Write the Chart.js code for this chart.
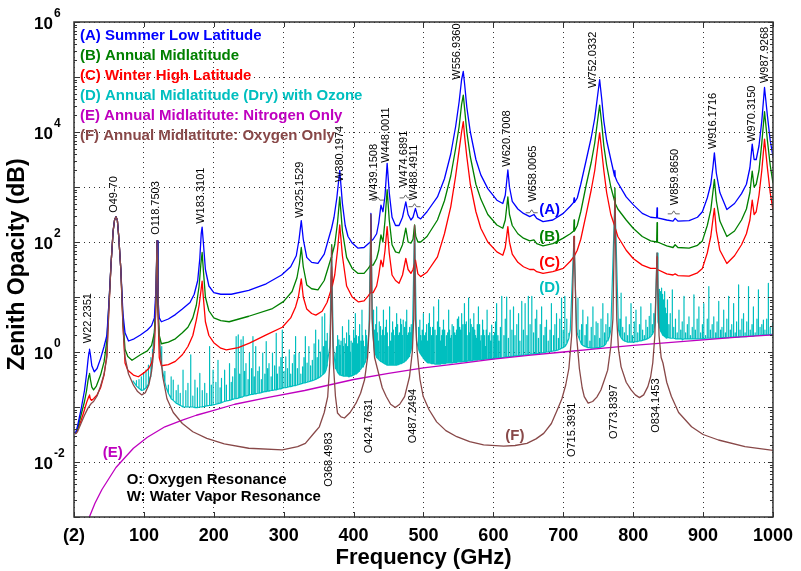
<!DOCTYPE html>
<html>
<head>
<meta charset="utf-8">
<title>Zenith Opacity</title>
<script src="https://cdn.jsdelivr.net/npm/chart.js@4.4.1/dist/chart.umd.min.js"></script>
<style>
  html, body { margin: 0; padding: 0; background: #fff; }
  #wrap { width: 801px; height: 571px; }
</style>
</head>
<body>
<div id="wrap"><canvas id="opacityChart" width="801" height="571"></canvas></div>
<script>
// 数据：频率 (GHz) 与 log10(天顶不透明度 dB)，全部从对数轴上读取
const xTickValues = [0, 100, 200, 300, 400, 500, 600, 700, 800, 900, 1000];
const xTickLabels = ['(2)', '100', '200', '300', '400', '500', '600', '700', '800', '900', '1000'];
const yDecades = [-3, -2, -1, 0, 1, 2, 3, 4, 5, 6];
const yLabelDecades = [-2, 0, 2, 4, 6];

// (A) Summer Low Latitude
const summerLowLat = [[2,-1.49],[5,-1.35],[10,-1.05],[15,-0.7],[18,-0.4],[20,-0.15],[21.5,0.0],[22.2,0.05],[23.5,-0.05],[25.5,-0.25],[29,-0.36],[33,-0.3],[38,-0.12],[43,0.1],[47,0.3],[50,0.9],[53,1.6],[56,2.2],[58,2.4],[60,2.46],[62,2.4],[64,2.1],[67,1.5],[70,0.7],[73,0.35],[78,0.2],[86,0.24],[95,0.31],[105,0.4],[111,0.48],[115,0.62],[117.5,1.2],[118.75,2.02],[120,1.0],[122,0.62],[125,0.55],[135,0.6],[145,0.68],[155,0.78],[166,0.9],[172,1.05],[177,1.3],[180,1.7],[182,2.15],[183.3,2.27],[185,2.0],[188,1.5],[193,1.2],[200,1.08],[210,1.05],[225,1.05],[250,1.12],[275,1.24],[297,1.4],[310,1.55],[318,1.75],[322,2.05],[325.15,2.39],[328,2.05],[333,1.72],[340,1.63],[349,1.61],[358,1.78],[364,2.05],[368.5,2.25],[372,2.45],[376,2.8],[380.2,3.3],[384,2.7],[388,2.3],[392,2.1],[398,1.98],[406,1.89],[415,1.9],[421,1.97],[424,2.0],[424.76,2.52],[425.5,2.02],[428,2.05],[433,2.15],[436,2.35],[439.15,2.67],[442,2.55],[445,2.85],[448,3.43],[451,2.9],[455,2.45],[460,2.3],[465,2.3],[470,2.45],[474.7,2.73],[478,2.5],[482,2.4],[485,2.45],[488.5,2.61],[492,2.45],[496,2.42],[505,2.55],[520,2.82],[530,3.15],[539,3.6],[546,4.1],[551,4.55],[554.5,4.95],[556.94,5.1],[559,4.85],[562,4.45],[567,4.0],[575,3.5],[582,3.22],[592,2.97],[605,2.76],[613.5,2.7],[617,2.85],[620.7,3.31],[623,3.0],[627,2.74],[635,2.6],[643,2.52],[652,2.46],[658,2.5],[662,2.43],[671,2.37],[685,2.4],[700,2.52],[710,2.65],[714.8,2.72],[715.4,2.8],[716,2.72],[720,2.8],[725,3.05],[733,3.5],[740,3.9],[745,4.25],[749,4.65],[752.03,4.95],[755,4.6],[758,4.2],[762,3.85],[768,3.5],[773.3,3.2],[773.84,3.3],[774.4,3.18],[777,3.1],[790,2.82],[800,2.68],[813,2.52],[825,2.45],[833.6,2.44],[834.15,2.62],[834.7,2.44],[848,2.4],[857,2.38],[860,2.43],[864,2.38],[880,2.39],[892,2.45],[899,2.55],[906,2.8],[911,3.05],[914,3.35],[916.17,3.62],[919,3.25],[924,2.9],[934,2.59],[945,2.7],[955,2.88],[962,3.05],[967,3.35],[970.3,3.78],[973,3.5],[976,3.5],[980,3.75],[984,4.2],[987.9,4.81],[992,4.3],[996,3.85],[1000,3.55]];

// (B) Annual Midlatitude
const annualMidLat = [[2,-1.49],[5,-1.4],[10,-1.15],[15,-0.9],[18,-0.7],[20,-0.52],[21.5,-0.42],[22.2,-0.39],[23.5,-0.5],[25.5,-0.64],[28,-0.69],[32,-0.62],[38,-0.42],[43,-0.18],[47,0.2],[50,0.88],[53,1.6],[56,2.2],[58,2.4],[60,2.46],[62,2.4],[64,2.1],[67,1.5],[70,0.6],[73,0.05],[77,-0.08],[83,-0.15],[95,-0.05],[105,0.02],[111,0.12],[115,0.35],[117.5,1.1],[118.75,2.02],[120,0.9],[122,0.3],[125,0.15],[135,0.18],[145,0.24],[155,0.35],[163,0.45],[170,0.62],[175,0.85],[179,1.2],[181.5,1.6],[183.3,1.81],[185,1.5],[188,1.0],[193,0.75],[200,0.62],[210,0.57],[222,0.55],[250,0.65],[284,0.79],[300,0.92],[312,1.1],[319,1.35],[322.5,1.6],[325.15,1.9],[328,1.55],[333,1.22],[340,1.15],[349,1.13],[358,1.3],[364,1.55],[368,1.72],[368.5,1.95],[369,1.75],[373,1.95],[377,2.35],[380.2,2.82],[384,2.2],[390,1.72],[398,1.52],[406,1.43],[415,1.43],[421,1.52],[424.2,1.58],[424.76,2.04],[425.3,1.58],[428,1.58],[433,1.7],[436,1.85],[439.15,2.13],[442,2.0],[445,2.4],[448,2.95],[451,2.4],[455,1.95],[460,1.82],[465,1.8],[470,1.95],[474.7,2.25],[478,2.0],[482,1.98],[485,2.05],[487.25,2.31],[489,2.1],[492,2.0],[496,2.0],[505,2.1],[520,2.4],[530,2.75],[539,3.2],[546,3.7],[551,4.1],[554.5,4.5],[556.94,4.67],[559,4.4],[562,4.0],[567,3.55],[575,3.05],[582,2.78],[592,2.5],[605,2.31],[613.5,2.25],[617,2.4],[620.7,2.82],[623,2.5],[627,2.3],[635,2.15],[643,2.07],[652,2.02],[658,2.04],[662,1.97],[671,1.93],[685,1.97],[700,2.07],[710,2.15],[714.9,2.2],[715.4,2.4],[716,2.2],[720,2.3],[725,2.55],[733,3.05],[740,3.45],[745,3.8],[749,4.2],[752.03,4.49],[755,4.15],[758,3.75],[762,3.4],[768,3.0],[773.3,2.75],[773.84,2.98],[774.4,2.7],[778,2.6],[790,2.4],[800,2.25],[813,2.1],[825,2.02],[833.6,2.0],[834.15,2.35],[834.7,2.0],[848,1.93],[857,1.9],[860,1.95],[864,1.9],[880,1.89],[892,1.94],[899,2.02],[906,2.3],[911,2.58],[914,2.9],[916.17,3.14],[919,2.75],[924,2.38],[934,2.1],[945,2.2],[955,2.4],[962,2.6],[967,2.9],[970.3,3.29],[973,3.0],[976,3.05],[980,3.3],[984,3.8],[987.9,4.37],[992,3.85],[996,3.4],[1000,3.07]];

// (C) Winter High Latitude
const winterHighLat = [[2,-1.49],[5,-1.42],[10,-1.25],[15,-1.05],[18,-0.92],[20,-0.85],[21.5,-0.8],[22.2,-0.78],[23.3,-0.85],[25,-0.88],[28,-0.85],[33,-0.78],[38,-0.65],[43,-0.42],[47,-0.05],[50,0.82],[53,1.6],[56,2.2],[58,2.4],[60,2.46],[62,2.4],[64,2.1],[67,1.5],[70,0.5],[73,-0.2],[77,-0.33],[85,-0.42],[92,-0.45],[100,-0.38],[107,-0.3],[111,-0.2],[115,0.1],[117.5,1.0],[118.75,2.02],[120,0.8],[122,-0.1],[125,-0.25],[135,-0.23],[145,-0.17],[155,-0.05],[163,0.1],[170,0.3],[175,0.58],[179,0.85],[181.5,1.1],[183.3,1.29],[185,1.0],[188,0.55],[193,0.3],[200,0.17],[210,0.07],[218,0.04],[235,0.08],[251,0.16],[275,0.31],[298,0.45],[310,0.62],[317,0.82],[321,1.0],[325.15,1.33],[328,1.0],[333,0.78],[340,0.7],[346,0.67],[355,0.74],[362,0.9],[367.5,1.12],[368.5,1.55],[369.5,1.2],[373,1.4],[377,1.85],[380.2,2.31],[384,1.75],[390,1.2],[398,1.0],[407,0.91],[415,0.93],[421,1.02],[424.2,1.08],[424.76,1.8],[425.3,1.08],[428,1.08],[433,1.2],[436,1.4],[439.15,1.67],[442,1.55],[445,1.85],[448,2.28],[451,1.8],[455,1.4],[460,1.3],[465,1.25],[470,1.4],[474.7,1.7],[478,1.5],[482,1.43],[485,1.5],[488.5,1.67],[492,1.42],[496,1.37],[505,1.45],[520,1.73],[530,2.15],[539,2.64],[546,3.2],[551,3.67],[554.5,4.0],[556.94,4.19],[559,3.9],[562,3.55],[567,3.05],[575,2.55],[582,2.25],[592,2.0],[605,1.82],[613.5,1.76],[617,1.9],[620.7,2.28],[623,2.0],[627,1.78],[635,1.63],[643,1.55],[652,1.5],[658,1.5],[662,1.46],[671,1.43],[685,1.46],[700,1.52],[710,1.65],[714.9,1.73],[715.4,2.1],[716,1.75],[720,1.85],[725,2.05],[733,2.52],[740,2.95],[745,3.3],[749,3.7],[752.03,3.99],[755,3.65],[758,3.3],[762,2.9],[768,2.5],[773.3,2.3],[773.84,2.79],[774.4,2.25],[778,2.1],[790,1.85],[800,1.7],[813,1.58],[825,1.52],[833.6,1.52],[834.15,1.73],[834.7,1.5],[848,1.42],[857,1.4],[860,1.42],[864,1.39],[880,1.38],[892,1.44],[899,1.52],[906,1.8],[911,2.1],[914,2.4],[916.17,2.61],[919,2.2],[924,1.85],[934,1.61],[945,1.75],[955,1.95],[962,2.15],[967,2.4],[970.3,2.76],[973,2.5],[976,2.55],[980,2.85],[984,3.3],[987.9,3.87],[992,3.35],[996,2.9],[1000,2.58]];

// (D) 干燥大气 + 臭氧：基线点 与 尖峰 [频率, 基线, 峰顶]
const dryBase = [[84,-0.52],[90,-0.62],[97,-0.7],[104,-0.64],[109,-0.45],[113,-0.05],[116.5,0.62],[118.75,2.0],[121,0.52],[123,0.1],[127,-0.35],[132,-0.65],[138,-0.82],[146.5,-0.93],[158,-1.0],[175,-1.01],[195,-0.97],[215,-0.9],[240.5,-0.82],[265.5,-0.75],[290,-0.69],[320,-0.6],[346,-0.5],[359,-0.38],[363,-0.2],[366,0.1],[368.5,1.9],[371,0.1],[374,-0.3],[380.5,-0.42],[394.5,-0.45],[405.8,-0.38],[413.5,-0.27],[419.5,-0.05],[422,0.4],[424.76,2.5],[427,0.4],[431.8,-0.05],[437.2,-0.15],[448.1,-0.24],[460.8,-0.24],[472.5,-0.18],[480.2,-0.05],[484,0.2],[487.25,2.3],[490,0.2],[495.6,-0.02],[500.6,-0.12],[507.8,-0.2],[521.5,-0.22],[545.5,-0.19],[570.6,-0.16],[600.2,-0.12],[630,-0.07],[659,-0.03],[691,0.03],[703.5,0.12],[710,0.4],[715.39,2.1],[719,0.35],[726.5,0.14],[736,0.08],[751,0.08],[762,0.2],[768,0.4],[773.84,2.8],[779,0.4],[785.5,0.22],[800,0.18],[815,0.22],[825.8,0.3],[831,0.5],[834.15,1.8],[835.5,0.55],[848,0.25],[870.5,0.22],[900,0.24],[930,0.26],[960.5,0.28],[1000,0.32]];

const drySpikes = [[89,-0.61,-0.52],[93,-0.66,-0.5],[96,-0.69,-0.45],[99.5,-0.69,-0.39],[103,-0.65,-0.33],[106.5,-0.58,-0.24],[110,-0.4,-0.1],[112,-0.2,0.05],
[125.5,-0.25,0.1],[130,-0.55,-0.35],[135,-0.75,-0.6],[139,-0.85,-0.45],[142,-0.88,-0.51],[146,-0.93,-0.7],[149,-0.95,-0.6],[152,-0.97,-0.75],[156,-1.0,-0.33],[160,-1.0,-0.7],[163,-1.0,-0.57],[167,-1.0,-0.05],[170,-1.0,-0.8],[173,-1.01,-0.51],[176.5,-1.01,-0.65],[180,-1.0,-0.39],[183.5,-1.0,-0.7],[187,-0.99,-0.57],[190,-0.98,-0.75],[194,-0.97,0.1],[196.5,-0.97,-0.6],[199,-0.96,-0.33],[203,-0.95,-0.55],[206,-0.94,-0.15],[209,-0.93,-0.65],[211,-0.92,-0.48],[215.5,-0.9,-0.33],[218,-0.89,-0.6],[222.5,-0.88,-0.21],[225,-0.87,-0.55],[227,-0.86,-0.45],[230,-0.85,-0.3],[232,-0.85,0.28],[235,-0.84,0.31],[237,-0.83,-0.4],[239,-0.82,0.22],[242,-0.81,0.28],[244,-0.8,-0.35],[246,-0.8,-0.21],[249,-0.79,-0.5],[251,-0.78,-0.02],[254,-0.77,-0.3],[256,-0.77,0.28],[258,-0.76,-0.45],[260,-0.76,0.1],[263,-0.75,-0.35],[265,-0.75,-0.27],[268,-0.74,-0.5],[270,-0.73,-0.02],[273,-0.72,-0.4],[275,-0.72,0.19],[277,-0.71,-0.3],[279,-0.71,-0.21],[282,-0.7,-0.45],[284,-0.7,-0.02],[287,-0.69,-0.25],[289,-0.69,0.34],[291,-0.68,-0.4],[293.6,-0.67,-0.27],[296,-0.67,-0.1],[298,-0.66,0.4],[300.5,-0.65,-0.35],[303,-0.65,-0.09],[305.5,-0.64,-0.3],[308,-0.63,0.04],[310,-0.63,-0.4],[312.5,-0.62,-0.21],[315,-0.61,-0.05],[317,-0.61,0.28],[319.5,-0.6,-0.3],[322,-0.59,-0.02],[324.5,-0.58,-0.4],[327,-0.57,-0.27],[329,-0.56,-0.1],[331,-0.56,0.28],[333.5,-0.55,-0.2],[336,-0.54,0.1],[338.5,-0.53,-0.25],[341,-0.52,-0.15],[343.5,-0.51,0.15],[345.6,-0.5,0.4],[348,-0.48,-0.1],[350,-0.47,0.22],[352.5,-0.45,0.0],[355,-0.42,0.64],[357,-0.4,0.1],[358.5,-0.38,0.7],[360.5,-0.33,0.2],[362,-0.25,0.34],
[374.5,-0.3,-0.02],[375.5,-0.32,0.1],[376.5,-0.35,0.3],[377.5,-0.37,0.05],[379,-0.4,0.22],[380,-0.41,0.12],[381,-0.42,-0.05],[382,-0.42,0.2],[383.5,-0.43,0.46],[384.5,-0.43,0.05],[385.5,-0.44,0.1],[386.5,-0.44,0.25],[388,-0.44,0.04],[389,-0.44,0.15],[390,-0.44,0.35],[391.5,-0.44,0.1],[393,-0.45,0.58],[394,-0.45,0.3],[395,-0.44,0.0],[396.5,-0.44,0.2],[398,-0.43,0.16],[399,-0.42,0.1],[400,-0.42,0.4],[401.5,-0.41,0.25],[402.5,-0.4,0.7],[403.5,-0.4,0.3],[404.5,-0.39,0.1],[405.5,-0.38,0.15],[407,-0.36,0.28],[408,-0.35,0.35],[409,-0.33,0.5],[410.5,-0.31,0.2],[412,-0.28,0.76],[413,-0.27,0.3],[414,-0.25,0.2],[415.3,-0.22,0.1],[416.7,-0.18,0.4],[417.5,-0.15,0.25],[418.5,-0.1,0.3],
[428.5,0.2,0.76],[429.5,0.05,0.4],[430.5,-0.02,0.3],[431.5,-0.05,0.5],[433,-0.1,0.82],[434,-0.11,0.35],[435.5,-0.13,0.2],[436.5,-0.14,0.55],[438,-0.16,0.46],[439,-0.17,0.25],[440.5,-0.18,0.3],[441.5,-0.19,0.4],[442.7,-0.2,0.76],[443.8,-0.21,0.3],[445,-0.22,0.25],[446,-0.22,0.45],[447,-0.23,0.58],[448.3,-0.23,0.35],[449.5,-0.24,0.1],[450.8,-0.24,0.5],[452,-0.24,0.82],[453.2,-0.24,0.2],[454.5,-0.24,0.35],[455.8,-0.24,0.55],[457,-0.24,0.4],[458.2,-0.24,0.3],[459.5,-0.24,0.15],[460.5,-0.24,0.45],[461.6,-0.24,0.7],[463,-0.23,0.5],[464,-0.23,0.3],[465,-0.22,0.35],[466,-0.22,0.28],[467.3,-0.21,0.6],[468.5,-0.21,0.5],[469.7,-0.2,0.3],[471,-0.19,0.58],[472.2,-0.18,0.45],[473.5,-0.17,0.2],[474.7,-0.16,0.55],[476,-0.14,0.76],[477.2,-0.12,0.3],[478.5,-0.1,0.35],[479.5,-0.08,0.45],[480.6,-0.05,0.22],[481.5,0.0,0.35],[482.5,0.05,0.5],
[493,0.05,0.45],[494.8,-0.02,0.58],[496,-0.04,0.3],[497,-0.06,0.2],[498.2,-0.08,0.4],[499.5,-0.1,0.7],[500.8,-0.12,0.25],[502,-0.14,0.3],[503.2,-0.16,0.35],[504.5,-0.18,0.5],[505.5,-0.19,0.2],[506.6,-0.2,0.52],[507.5,-0.2,0.35],[508.5,-0.2,0.7],[509.8,-0.2,0.45],[511,-0.21,0.25],[512,-0.21,0.3],[513,-0.21,0.45],[514,-0.21,0.2],[515,-0.21,0.82],[516.5,-0.22,0.4],[518,-0.22,0.3],[519,-0.22,0.25],[520,-0.22,0.55],[521,-0.22,0.35],[522,-0.22,0.95],[523.3,-0.22,0.45],[524.5,-0.22,0.2],[525.8,-0.21,0.3],[527,-0.21,0.4],[528,-0.21,0.25],[529,-0.21,0.58],[530.3,-0.21,0.4],[531.5,-0.21,0.1],[532.8,-0.2,0.3],[534,-0.2,0.35],[535,-0.2,0.2],[536,-0.2,0.76],[537.3,-0.2,0.4],[538.5,-0.2,0.25],[539.8,-0.2,0.3],[541,-0.2,0.5],[542.3,-0.19,0.25],[543.6,-0.19,0.46],[544.8,-0.19,0.35],[546,-0.19,0.3],[547.3,-0.19,0.4],[548.5,-0.18,0.6],[549.6,-0.18,0.3],[550.7,-0.18,0.64],[551.8,-0.18,0.45],[553,-0.18,0.4],[554,-0.18,0.35],[555,-0.18,0.7],[556.5,-0.17,0.5],[558,-0.17,0.88],[559,-0.17,0.4],[560,-0.17,0.5],[561.3,-0.17,0.55],[562.5,-0.17,0.3],[563.8,-0.16,0.45],[565,-0.16,0.98],[566,-0.16,0.35],[567,-0.16,0.6],[568.3,-0.16,0.5],[569.5,-0.16,0.45],[570.8,-0.15,0.3],[572,-0.15,0.7],[573.3,-0.15,0.4],[574.5,-0.15,0.3],[575.8,-0.15,0.25],[577,-0.15,0.5],[578,-0.14,0.35],[579,-0.14,0.82],[580.3,-0.14,0.5],[581.5,-0.14,0.2],[582.6,-0.14,0.3],[583.8,-0.14,0.58],[585,-0.14,0.25],[586,-0.14,0.4],[587.3,-0.13,0.3],[588.5,-0.13,0.1],[589.8,-0.13,0.4],[591,-0.13,0.76],[592.3,-0.13,0.2],[593.5,-0.13,0.3],[594.8,-0.12,0.35],[596,-0.12,0.2],[597,-0.12,0.25],[598,-0.12,0.49],[599.5,-0.12,0.3],[601,-0.12,0.35],[602,-0.11,0.2],[603,-0.11,0.55],[604,-0.11,0.4],[605,-0.11,0.88],[606.5,-0.11,0.3],[608,-0.11,0.2],[610,-0.1,0.45],[612,-0.1,1.01],[615,-0.1,0.3],[617,-0.09,0.6],[619,-0.09,1.0],[621.5,-0.09,0.25],[624,-0.08,0.76],[626.5,-0.08,0.4],[628.8,-0.08,0.82],[631,-0.07,0.3],[633.5,-0.07,0.5],[636,-0.07,0.7],[638,-0.06,0.2],[640.6,-0.06,0.92],[643,-0.06,0.4],[645.4,-0.05,0.88],[648,-0.05,0.3],[650,-0.05,1.01],[652.5,-0.04,0.5],[655,-0.04,1.01],[657.5,-0.04,0.35],[660,-0.03,0.6],[662,-0.03,0.76],[664.5,-0.03,0.25],[667,-0.02,0.5],[669,-0.02,0.82],[672,-0.01,0.3],[674,-0.01,0.45],[676,0.0,0.58],[678.5,0.0,0.2],[681,0.01,0.4],[683,0.01,0.88],[686,0.02,0.3],[688,0.02,0.5],[690,0.03,0.7],[693,0.04,0.25],[695,0.05,0.6],[697.5,0.07,0.98],[700,0.08,0.4],[702.2,0.1,1.01],[705,0.15,0.6],[708,0.25,0.34],
[721,0.3,0.98],[723.5,0.22,0.4],[726,0.14,0.5],[728,0.12,0.76],[731,0.1,0.3],[733,0.09,0.5],[735,0.08,0.64],[738,0.08,0.2],[740,0.07,0.45],[742.4,0.07,0.82],[745,0.07,0.3],[747,0.08,0.55],[749.5,0.08,0.52],[752,0.08,0.25],[754,0.09,0.6],[756.6,0.1,0.88],[759,0.12,0.35],[761,0.15,0.5],[763.7,0.2,0.7],[766,0.28,0.45],
[781,0.3,0.6],[782.7,0.26,1.07],[785,0.22,0.45],[787.5,0.2,0.35],[789.8,0.19,0.64],[792,0.18,0.3],[794.5,0.18,0.5],[796.9,0.18,0.88],[799,0.18,0.3],[801.5,0.18,0.55],[804,0.19,0.76],[806.5,0.19,0.35],[809,0.2,0.5],[811,0.2,0.82],[813.5,0.21,0.4],[816,0.22,0.3],[818.2,0.23,0.58],[820.5,0.24,0.45],[823,0.26,0.65],[825.3,0.28,0.88],[827.5,0.32,0.5],[829.5,0.38,0.7],
[836.5,0.5,1.05],[837.1,0.48,1.14],[837.8,0.45,0.9],[838.5,0.42,1.0],[839.5,0.38,1.1],[840.2,0.36,0.95],[840.9,0.35,1.16],[841.5,0.33,0.9],[842,0.32,1.05],[842.5,0.31,0.85],[843,0.3,0.95],[843.6,0.3,0.8],[844.2,0.29,1.1],[845.5,0.28,0.9],[846.2,0.27,0.8],[847,0.27,0.7],[849,0.26,0.95],[851,0.26,0.5],[853,0.25,0.7],[856,0.25,1.13],[858,0.25,0.45],[860.5,0.24,0.6],[863,0.24,0.35],[865.5,0.24,0.76],[868,0.24,0.4],[870,0.24,0.55],[872.7,0.24,1.01],[875,0.24,0.35],[877.5,0.24,0.5],[879.8,0.24,0.64],[882,0.24,0.3],[884.5,0.24,0.45],[886.9,0.24,1.04],[889,0.24,0.4],[891.5,0.24,0.6],[894,0.24,0.82],[896.5,0.24,0.35],[899,0.24,0.5],[901,0.24,0.88],[903.5,0.25,0.3],[906,0.25,0.6],[908.2,0.25,1.19],[910.5,0.25,0.4],[913,0.25,0.5],[915.3,0.25,0.64],[918,0.25,0.35],[920,0.25,0.55],[922.4,0.25,0.92],[925,0.26,0.4],[927,0.26,0.45],[929.5,0.26,0.76],[932,0.26,0.35],[934,0.26,0.6],[936.6,0.26,1.01],[939,0.27,0.4],[941,0.27,0.5],[943.7,0.27,0.88],[946,0.27,0.35],[948,0.27,0.55],[950.8,0.27,1.22],[953,0.28,0.4],[955.5,0.28,0.6],[957.9,0.28,0.7],[960,0.28,0.35],[962.5,0.28,0.55],[965,0.29,1.19],[967.5,0.29,0.4],[970,0.29,0.5],[972,0.29,0.82],[974.5,0.3,0.35],[977,0.3,0.6],[979.2,0.3,1.13],[981.5,0.3,0.45],[984,0.31,0.5],[986.3,0.31,0.58],[988.5,0.31,0.4],[991,0.31,0.6],[993.4,0.31,1.25],[996,0.32,0.45],[999,0.32,0.52]];

// (E) Nitrogen only
const nitrogenOnly = [[12,-3.53],[22,-3.0],[30,-2.75],[40,-2.5],[50,-2.3],[60,-2.1],[85,-1.75],[105,-1.55],[130,-1.36],[155,-1.24],[175,-1.15],[200,-1.06],[230,-0.95],[280,-0.82],[330,-0.7],[365,-0.6],[400,-0.5],[450,-0.39],[500,-0.29],[550,-0.21],[600,-0.13],[650,-0.06],[700,0.0],[750,0.06],[800,0.12],[850,0.17],[900,0.22],[950,0.27],[1000,0.31]];

// (F) Oxygen only
const oxygenOnly = [[2,-1.49],[5,-1.45],[10,-1.3],[15,-1.15],[20,-1.02],[25,-0.93],[28,-0.9],[33,-0.8],[38,-0.62],[43,-0.4],[47,-0.1],[50,0.8],[53,1.6],[56,2.2],[58,2.4],[60,2.46],[62,2.4],[64,2.1],[67,1.5],[70,0.5],[73,-0.1],[78,-0.4],[85,-0.6],[91,-0.72],[97,-0.78],[102,-0.74],[107,-0.6],[111,-0.35],[114,0.0],[116.5,0.6],[118.75,2.02],[121,0.5],[123,0.05],[127,-0.45],[133,-0.85],[142,-1.1],[155,-1.3],[170,-1.45],[190,-1.57],[215,-1.67],[250,-1.75],[298,-1.78],[320,-1.72],[331,-1.66],[345,-1.45],[351,-1.36],[358,-1.1],[363,-0.81],[366,-0.2],[367.6,0.8],[368.5,1.9],[369.4,0.8],[371,-0.2],[374,-0.8],[377,-1.11],[382,-1.18],[387,-1.2],[395,-1.1],[403.5,-0.93],[410,-0.75],[415.6,-0.51],[420,-0.1],[423,0.6],[424.76,2.5],[426.5,0.6],[430,-0.1],[437,-0.45],[441,-0.65],[446.7,-0.81],[453,-0.95],[459.6,-1.01],[466,-0.95],[473,-0.81],[480,-0.45],[484,0.0],[486,0.6],[487.25,2.3],[488.5,0.6],[491,0.0],[495,-0.5],[499.6,-0.81],[508,-1.05],[518.8,-1.27],[532,-1.43],[547.6,-1.54],[566,-1.63],[586,-1.69],[614.8,-1.71],[631,-1.7],[648,-1.66],[661,-1.58],[672,-1.48],[683,-1.3],[691.5,-1.05],[698,-0.85],[703.5,-0.6],[708,-0.3],[712,0.3],[715.39,2.1],[719,0.3],[723,-0.3],[727,-0.65],[730,-0.81],[735.6,-0.93],[742,-0.9],[748,-0.82],[753.8,-0.69],[759,-0.5],[763.5,-0.33],[768,0.1],[771,0.6],[773.84,2.8],[776.5,0.6],[779,0.05],[782.7,-0.27],[790,-0.55],[797,-0.69],[803,-0.78],[809,-0.83],[815,-0.78],[821,-0.63],[825,-0.45],[828,-0.2],[831,0.3],[834.15,1.8],[837,0.3],[840,-0.1],[842.6,-0.2],[848,-0.55],[854.7,-0.81],[865,-1.1],[883.5,-1.36],[900,-1.5],[922,-1.6],[960,-1.72],[1000,-1.79]];

// 注释文字（位置用数据坐标：频率, log10 值）
const legendRows = [
    ['(A) Summer Low Latitude', '#0000ff'],
    ['(B) Annual Midlatitude', '#008000'],
    ['(C) Winter High Latitude', '#ff0000'],
    ['(D) Annual Midlatitude (Dry) with Ozone', '#00bfbf'],
    ['(E) Annual Midlatitute: Nitrogen Only', '#bf00bf'],
    ['(F) Annual Midlatitute: Oxygen Only', '#884848']
];
const legendAnchor = [8.5, 5.745];
const lineLabels = [
    ['W22.2351', 19.9, 0.16], ['O49-70', 56.8, 2.53], ['O118.7503', 117.9, 2.13], ['W183.3101', 181.8, 2.33],
    ['W325.1529', 323.4, 2.44], ['W380.1974', 380.7, 3.09], ['W439.1508', 429, 2.76], ['W448.0011', 446.4, 3.44],
    ['W474.6891', 472.6, 3.0], ['W488.4911', 486.8, 2.76], ['W556.9360', 548.3, 4.95], ['W620.7008', 619.3, 3.37],
    ['W658.0065', 657, 2.73], ['W752.0332', 742.9, 4.8], ['W859.8650', 859.4, 2.67], ['W916.1716', 914.8, 3.69],
    ['W970.3150', 969.7, 3.82], ['W987.9268', 988.6, 4.89],
    ['O368.4983', 365, -2.45], ['O424.7631', 422.7, -1.84], ['O487.2494', 485, -1.66],
    ['O715.3931', 713, -1.91], ['O773.8397', 772.7, -1.58], ['O834.1453', 833.1, -1.47]
];
const curveTags = [
    ['(A)', 680.4, 2.58, '#0000ff'], ['(B)', 680.4, 2.09, '#008000'], ['(C)', 680.4, 1.62, '#ff0000'],
    ['(D)', 680.4, 1.16, '#00bfbf'], ['(E)', 55.4, -1.84, '#bf00bf'], ['(F)', 630.7, -1.53, '#884848']
];
const blendMarks = [[434.7, 2.78], [474.4, 2.82], [487.2, 2.66], [654.8, 2.55], [858, 2.53]];
const noteRows = ['O: Oxygen Resonance', 'W: Water Vapor Resonance'];
const noteAnchor = [75.3, -2.33];

const FONT = '"Liberation Sans", Arial, Helvetica, sans-serif';

function toPoints(rows) {
    return rows.map(([f, lg]) => ({ x: f, y: Math.pow(10, lg) }));
}

function dryPoints() {
    const pts = toPoints(dryBase);
    drySpikes.forEach(([f, b, t]) => {
        pts.push({ x: f, y: Math.pow(10, b) }, { x: f, y: Math.pow(10, t) }, { x: f, y: Math.pow(10, b) });
    });
    return pts.sort((p, q) => p.x - q.x);
}

function lineSet(label, rows, color, order, width) {
    return {
        label: label,
        data: rows,
        borderColor: color,
        borderWidth: width,
        pointRadius: 0,
        tension: 0,
        borderJoinStyle: 'round',
        order: order
    };
}

// 边框与刻度（刻度朝内）
const framePlugin = {
    id: 'framePlugin',
    afterDatasetsDraw(chart) {
        const { ctx, chartArea: a, scales: { x, y } } = chart;
        ctx.save();
        ctx.strokeStyle = '#333';
        ctx.lineWidth = 1;
        const seg = (x1, y1, x2, y2) => { ctx.beginPath(); ctx.moveTo(x1, y1); ctx.lineTo(x2, y2); ctx.stroke(); };
        xTickValues.forEach(v => {
            const p = Math.round(x.getPixelForValue(v)) + 0.5;
            seg(p, a.bottom, p, a.bottom - 5);
            seg(p, a.top, p, a.top + 5);
        });
        yDecades.forEach(e => {
            const p = Math.round(y.getPixelForValue(Math.pow(10, e))) + 0.5;
            seg(a.left, p, a.left + 5, p);
            seg(a.right, p, a.right - 5, p);
            if (e < 6) {
                for (let m = 2; m <= 9; m++) {
                    const q = Math.round(y.getPixelForValue(m * Math.pow(10, e))) + 0.5;
                    seg(a.left, q, a.left + 3, q);
                    seg(a.right, q, a.right - 3, q);
                }
            }
        });
        ctx.lineWidth = 1.5;
        ctx.strokeRect(a.left, a.top, a.right - a.left, a.bottom - a.top);
        ctx.restore();
    }
};

// 所有文字
const textPlugin = {
    id: 'textPlugin',
    afterDraw(chart) {
        const { ctx, chartArea: a, scales: { x, y } } = chart;
        const at = (f, lg) => [x.getPixelForValue(f), y.getPixelForValue(Math.pow(10, lg))];
        ctx.save();

        // y 轴刻度 10^n
        ctx.fillStyle = '#000';
        ctx.textBaseline = 'middle';
        ctx.textAlign = 'left';
        yLabelDecades.forEach(e => {
            const py = y.getPixelForValue(Math.pow(10, e));
            ctx.font = 'bold 17px ' + FONT;
            ctx.fillText('10', a.left - 40, py + 2);
            const w = ctx.measureText('10').width;
            ctx.font = 'bold 12px ' + FONT;
            ctx.fillText(String(e), a.left - 40 + w + 1, py - 8);
        });

        // 坐标轴标题
        ctx.font = 'bold 22px ' + FONT;
        ctx.textAlign = 'center';
        ctx.fillText('Frequency (GHz)', (a.left + a.right) / 2, a.bottom + 41);
        ctx.save();
        ctx.font = 'bold 23px ' + FONT;
        ctx.translate(18, (a.top + a.bottom) / 2 - 5);
        ctx.rotate(-Math.PI / 2);
        ctx.fillText('Zenith Opacity (dB)', 0, 0);
        ctx.restore();

        // 图例
        ctx.font = 'bold 15px ' + FONT;
        ctx.textAlign = 'left';
        const [lx, ly] = at(legendAnchor[0], legendAnchor[1]);
        legendRows.forEach(([t, c], i) => {
            ctx.fillStyle = c;
            ctx.fillText(t, lx, ly + i * 20);
        });

        // 说明
        ctx.fillStyle = '#000';
        const [nx, ny] = at(noteAnchor[0], noteAnchor[1]);
        noteRows.forEach((t, i) => ctx.fillText(t, nx, ny + i * 17));

        // 曲线标记
        ctx.textAlign = 'center';
        curveTags.forEach(([t, f, lg, c]) => {
            const [tx, ty] = at(f, lg);
            ctx.fillStyle = c;
            ctx.fillText(t, tx, ty);
        });

        // 谱线标注（竖排）
        ctx.fillStyle = '#000';
        ctx.font = '11px ' + FONT;
        ctx.textAlign = 'left';
        lineLabels.forEach(([t, f, lg]) => {
            const [tx, ty] = at(f, lg);
            ctx.save();
            ctx.translate(tx, ty);
            ctx.rotate(-Math.PI / 2);
            ctx.fillText(t, 0, 0);
            ctx.restore();
        });

        // 重叠谱线的小记号
        ctx.strokeStyle = '#666';
        ctx.lineWidth = 1;
        blendMarks.forEach(([f, lg]) => {
            const [mx, my] = at(f, lg);
            ctx.beginPath();
            ctx.moveTo(mx - 6, my + 1);
            ctx.lineTo(mx - 2, my + 1);
            ctx.lineTo(mx, my - 2);
            ctx.lineTo(mx + 2, my + 1);
            ctx.lineTo(mx + 6, my + 1);
            ctx.stroke();
        });
        ctx.restore();
    }
};

function initChart() {
    const ctx = document.getElementById('opacityChart').getContext('2d');
    return new Chart(ctx, {
        type: 'line',
        data: {
            datasets: [
                lineSet('F', toPoints(oxygenOnly), '#884848', 0, 1.3),
                lineSet('E', toPoints(nitrogenOnly), '#bf00bf', 1, 1.3),
                lineSet('A', toPoints(summerLowLat), '#0000ff', 2, 1.3),
                lineSet('B', toPoints(annualMidLat), '#008000', 3, 1.3),
                lineSet('C', toPoints(winterHighLat), '#ff0000', 4, 1.3),
                lineSet('D', dryPoints(), '#00bfbf', 5, 1.2)
            ]
        },
        options: {
            responsive: false,
            devicePixelRatio: 1,
            animation: false,
            layout: { padding: { top: 22, right: 23, left: 0, bottom: 0 } },
            plugins: { legend: { display: false }, tooltip: { enabled: false } },
            scales: {
                x: {
                    type: 'linear',
                    min: 0,
                    max: 1000,
                    afterBuildTicks: s => { s.ticks = xTickValues.map(v => ({ value: v })); },
                    afterFit: s => { s.height = 54; },
                    ticks: {
                        autoSkip: false,
                        maxRotation: 0,
                        padding: 8,
                        color: '#000',
                        font: { family: FONT, size: 18, weight: 'bold' },
                        callback: (v, i) => xTickLabels[i]
                    },
                    grid: { color: 'rgba(0,0,0,0.8)', lineWidth: 1, drawTicks: false },
                    border: { display: false, dash: [1, 4] }
                },
                y: {
                    type: 'logarithmic',
                    min: 1e-3,
                    max: 1e6,
                    afterBuildTicks: s => { s.ticks = yDecades.map(e => ({ value: Math.pow(10, e) })); },
                    afterFit: s => { s.width = 74; },
                    ticks: { display: false },
                    grid: { color: 'rgba(0,0,0,0.8)', lineWidth: 1, drawTicks: false },
                    border: { display: false, dash: [1, 4] }
                }
            }
        },
        plugins: [framePlugin, textPlugin]
    });
}

document.addEventListener('DOMContentLoaded', initChart);
</script>
</body>
</html>
